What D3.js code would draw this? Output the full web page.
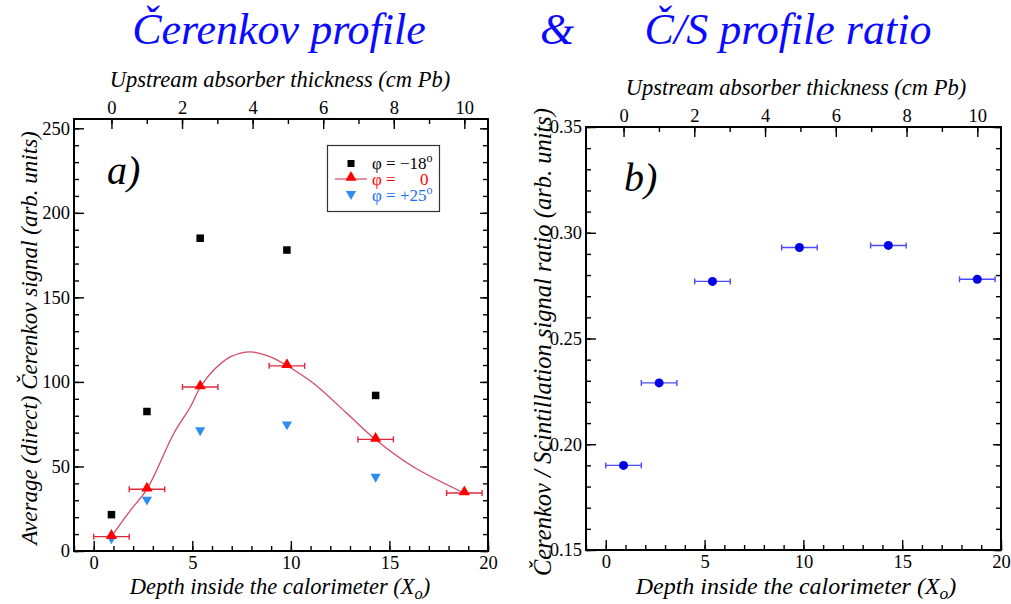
<!DOCTYPE html>
<html>
<head>
<meta charset="utf-8">
<script src="https://cdn.jsdelivr.net/npm/d3@7"></script>
<style>
  html, body { margin: 0; padding: 0; background: #fff; }
  svg text, svg tspan { font-family: "Liberation Serif", "Times New Roman", Tinos, serif; }
</style>
</head>
<body>
<svg id="chart" width="1011" height="604"></svg>
<script>
// Depth of each measurement (radiation lengths) and the lead absorber behind it
const depthX0 = [0.9, 2.7, 5.4, 9.8, 14.3, 18.8];
const absorberCm = [0, 1, 2.5, 5, 7.5, 10];
const depthErr = 0.9;

// Panel a: average direct Cerenkov signal for three tilt angles
const sigMinus18 = [21.5, 82.5, 185, 178, 92];
const sigZero = [8.5, 36.5, 97, 109.5, 66, 34.3];
const sigPlus25 = [8, 31, 72, 75.5, 44.5];

// Smooth curve drawn through the phi = 0 profile
const fitDepth = [0.9, 1.86, 2.71, 4.06, 4.9, 5.41, 6.09, 6.93, 7.95, 8.96, 9.79, 11.16, 12.85, 14.29, 16.23, 18.8];
const fitSignal = [8.5, 24, 36.7, 69.5, 85.2, 97, 107, 114.8, 117.8, 114.8, 109.7, 99, 81.3, 66, 49.7, 34.3];

// Panel b: Cerenkov / scintillation ratio
const csRatio = [0.190, 0.229, 0.277, 0.293, 0.294, 0.278];

// Tick values
const depthTicks = [0, 5, 10, 15, 20];
const depthMinor = d3.range(-1, 21, 1);
const cmTicks = [0, 2, 4, 6, 8, 10];
const cmMinor = d3.range(0, 11, 1);
const sigTicks = [0, 50, 100, 150, 200, 250];
const sigMinor = d3.range(0, 256, 10);
const ratioTicks = [0.15, 0.20, 0.25, 0.30, 0.35];
const ratioMinor = d3.range(15, 36, 1).map(v => v / 100);

const SERIF = "Liberation Serif, Times New Roman, Tinos, serif";
const svg = d3.select("#chart");
const blueTitle = "#0a0aff";

function txt(g, x, y, str, size, opts = {}) {
  return g.append("text").attr("x", x).attr("y", y)
    .attr("font-family", SERIF).attr("font-size", size)
    .attr("font-style", opts.italic ? "italic" : "normal")
    .attr("text-anchor", opts.anchor || "start")
    .attr("fill", opts.fill || "#000")
    .text(str);
}

// ---- titles ----
txt(svg, 279, 44, "Čerenkov profile", 44, { italic: true, anchor: "middle", fill: blueTitle });
txt(svg, 557, 44, "&", 44, { italic: true, anchor: "middle", fill: blueTitle });
txt(svg, 788, 44, "Č/S profile ratio", 44, { italic: true, anchor: "middle", fill: blueTitle });

function frameAxes(g, x, y, xTop, cfg) {
  const [x0, x1] = x.range();
  const [yb, yt] = y.range();
  const add = (axis, tx, ty) => g.append("g").attr("transform", `translate(${tx},${ty})`).call(axis);

  // bottom
  add(d3.axisBottom(x).tickValues(depthMinor).tickSize(-5).tickFormat(""), 0, yb);
  add(d3.axisBottom(x).tickValues(depthTicks).tickSize(-10).tickPadding(5).tickFormat(d3.format("d")), 0, yb);
  // top (absorber thickness)
  add(d3.axisTop(xTop).tickValues(cmMinor).tickSize(-5).tickFormat(""), 0, yt);
  add(d3.axisTop(xTop).tickValues(cmTicks).tickSize(-10).tickPadding(5).tickFormat(d3.format("d")), 0, yt);
  // left
  add(d3.axisLeft(y).tickValues(cfg.minor).tickSize(-5).tickFormat(""), x0, 0);
  add(d3.axisLeft(y).tickValues(cfg.major).tickSize(-10).tickPadding(4).tickFormat(cfg.fmt), x0, 0);
  // right (mirror)
  add(d3.axisRight(y).tickValues(cfg.minor).tickSize(-5).tickFormat(""), x1, 0);
  add(d3.axisRight(y).tickValues(cfg.major).tickSize(-8).tickFormat(""), x1, 0);

  g.selectAll(".domain").remove();
  g.selectAll(".tick line").attr("stroke", "#000").attr("stroke-width", 1.4);
  g.selectAll(".tick text").attr("fill", "#000").attr("font-size", 18.5).attr("font-family", SERIF);

  g.append("rect").attr("x", x0).attr("y", yt).attr("width", x1 - x0).attr("height", yb - yt)
    .attr("fill", "none").attr("stroke", "#000").attr("stroke-width", 2);
}

function axisTitles(g, cx, topY, botY, botSize, yx, ycy, ySize, ylabel) {
  txt(g, cx, topY, "Upstream absorber thickness (cm Pb)", 22.5, { italic: true, anchor: "middle" });
  const t = txt(g, cx, botY, "", botSize, { italic: true, anchor: "middle" });
  t.append("tspan").text("Depth inside the calorimeter (X");
  t.append("tspan").attr("dy", 5).attr("font-size", botSize * 0.73).text("o");
  t.append("tspan").attr("dy", -5).text(")");
  txt(g, 0, 0, ylabel, ySize, { italic: true, anchor: "middle" })
    .attr("transform", `translate(${yx},${ycy}) rotate(-90)`);
}

// ================= panel a =================
const xA = d3.scaleLinear().domain([-1, 20]).range([74, 488]);
const yA = d3.scaleLinear().domain([0, 255.5]).range([551, 119]);
const xAtop = d3.scaleLinear().domain([absorberCm[0], absorberCm[5]]).range([xA(depthX0[0]), xA(depthX0[5])]);
const gA = svg.append("g");
frameAxes(gA, xA, yA, xAtop, { major: sigTicks, minor: sigMinor, fmt: d3.format("d") });
axisTitles(gA, 280, 87, 594, 22.5, 37, 338, 23, "Average (direct) Čerenkov signal (arb. units)");

txt(gA, 107, 184, "a)", 40, { italic: true });

// fitted curve
const curveA = fitDepth.map((d, i) => [d, fitSignal[i]]);
gA.append("path").datum(curveA)
  .attr("d", d3.line().x(d => xA(d[0])).y(d => yA(d[1])).curve(d3.curveCatmullRom.alpha(0.5)))
  .attr("fill", "none").attr("stroke", "#d24a66").attr("stroke-width", 1.3);

// error bars on phi = 0
const redErr = "#e0283c";
const zeroPts = sigZero.map((v, i) => ({ x: depthX0[i], y: v }));
const eb = gA.append("g").attr("stroke", redErr).attr("stroke-width", 1.4);
zeroPts.forEach(p => {
  eb.append("line").attr("x1", xA(p.x - depthErr)).attr("x2", xA(p.x + depthErr)).attr("y1", yA(p.y)).attr("y2", yA(p.y));
  [p.x - depthErr, p.x + depthErr].forEach(e =>
    eb.append("line").attr("x1", xA(e)).attr("x2", xA(e)).attr("y1", yA(p.y) - 3).attr("y2", yA(p.y) + 3));
});

// phi = -18 squares
gA.append("g").selectAll("rect").data(sigMinus18).join("rect")
  .attr("x", (d, i) => xA(depthX0[i]) - 3.75).attr("y", d => yA(d) - 3.75)
  .attr("width", 7.5).attr("height", 7.5).attr("fill", "#000");

// phi = +25 down triangles
const triDown = d3.symbol().type(d3.symbolTriangle).size(45);
gA.append("g").selectAll("path").data(sigPlus25).join("path")
  .attr("d", triDown)
  .attr("transform", (d, i) => `translate(${xA(depthX0[i])},${yA(d) + 1}) rotate(180)`)
  .attr("fill", "#2f8cf0");

// phi = 0 up triangles
const triUp = d3.symbol().type(d3.symbolTriangle).size(55);
gA.append("g").selectAll("path").data(zeroPts).join("path")
  .attr("d", triUp)
  .attr("transform", d => `translate(${xA(d.x)},${yA(d.y) - 1})`)
  .attr("fill", "#ff0000");

// legend
const lg = gA.append("g");
lg.append("rect").attr("x", 327.5).attr("y", 145.5).attr("width", 112).attr("height", 66)
  .attr("fill", "#fff").attr("stroke", "#333").attr("stroke-width", 1.2);
lg.append("rect").attr("x", 347.5).attr("y", 160).attr("width", 7).attr("height", 7).attr("fill", "#000");
lg.append("line").attr("x1", 335).attr("x2", 367).attr("y1", 179).attr("y2", 179).attr("stroke", "#d24a66").attr("stroke-width", 1.2);
lg.append("path").attr("d", triUp).attr("transform", "translate(351,177.5)").attr("fill", "#ff0000");
lg.append("path").attr("d", triDown).attr("transform", "translate(351,194) rotate(180)").attr("fill", "#2f8cf0");

const r1 = txt(lg, 372, 169, "", 17, { fill: "#000" });
r1.append("tspan").text("φ = −18");
r1.append("tspan").attr("dy", -7).attr("font-size", 12).text("o");
const r2 = txt(lg, 372, 185, "", 17, { fill: "#ff0000" });
r2.append("tspan").attr("x", 372).text("φ =");
r2.append("tspan").attr("x", 420).text("0");
const r3 = txt(lg, 372, 201, "", 17, { fill: "#1a6cf5" });
r3.append("tspan").text("φ = +25");
r3.append("tspan").attr("dy", -7).attr("font-size", 12).text("o");

// ================= panel b =================
const xB = d3.scaleLinear().domain([-1, 20]).range([586, 1001]);
const yB = d3.scaleLinear().domain([0.15, 0.35]).range([550, 127]);
const xBtop = d3.scaleLinear().domain([absorberCm[0], absorberCm[5]]).range([xB(depthX0[0]), xB(depthX0[5])]);
const gB = svg.append("g");
frameAxes(gB, xB, yB, xBtop, { major: ratioTicks, minor: ratioMinor, fmt: d3.format(".2f") });
axisTitles(gB, 796, 95, 594, 24, 551, 342, 24.5, "Čerenkov / Scintillation signal ratio (arb. units)");

txt(gB, 624, 191, "b)", 40, { italic: true });

const ratioPts = csRatio.map((v, i) => ({ x: depthX0[i], y: v }));
const ebB = gB.append("g").attr("stroke", "#4a4aff").attr("stroke-width", 1.4);
ratioPts.forEach(p => {
  ebB.append("line").attr("x1", xB(p.x - depthErr)).attr("x2", xB(p.x + depthErr)).attr("y1", yB(p.y)).attr("y2", yB(p.y));
  [p.x - depthErr, p.x + depthErr].forEach(e =>
    ebB.append("line").attr("x1", xB(e)).attr("x2", xB(e)).attr("y1", yB(p.y) - 3).attr("y2", yB(p.y) + 3));
});
gB.append("g").selectAll("circle").data(ratioPts).join("circle")
  .attr("cx", d => xB(d.x)).attr("cy", d => yB(d.y)).attr("r", 4.5).attr("fill", "#0000e6");
</script>
</body>
</html>
